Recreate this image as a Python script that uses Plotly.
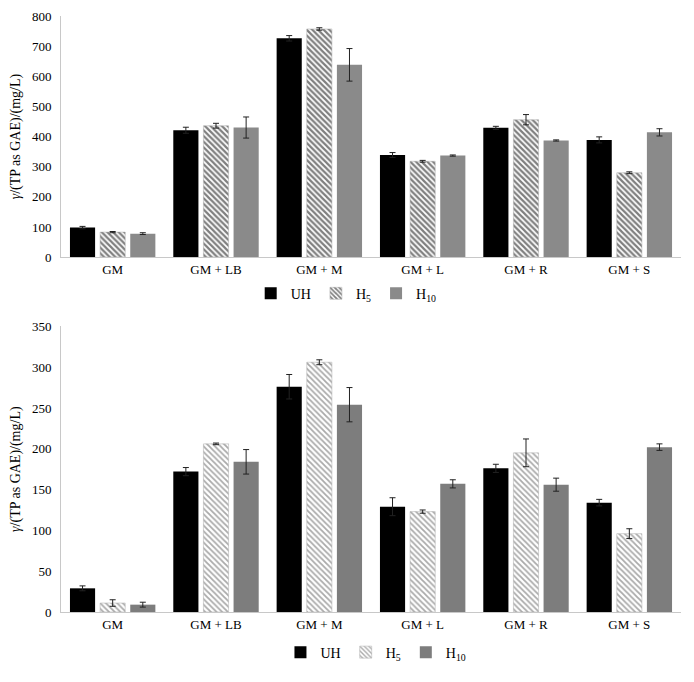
import plotly.graph_objects as go

categories = ["GM", "GM + LB", "GM + M", "GM + L", "GM + R", "GM + S"]

# Top chart
top_uh = [98, 421, 726, 339, 429, 389]
top_uh_err = [4, 10, 9, 8, 5, 10]
top_h5 = [83, 436, 757, 318, 456, 280]
top_h5_err = [2, 8, 4, 3, 17, 3]
top_h10 = [78, 430, 638, 337, 387, 414]
top_h10_err = [3, 35, 54, 2, 2, 12]

# Bottom chart
bot_uh = [29, 172, 276, 129, 176, 134]
bot_uh_err = [3, 5, 15, 11, 5, 4]
bot_h5 = [11, 206, 306, 123, 195, 96]
bot_h5_err = [4, 1, 3, 2, 17, 6]
bot_h10 = [9, 184, 254, 157, 156, 202]
bot_h10_err = [3, 15, 21, 5, 8, 4]

series_names = ["UH", "H<sub>5</sub>", "H<sub>10</sub>"]
top_yticks = [0, 100, 200, 300, 400, 500, 600, 700, 800]
bot_yticks = [0, 50, 100, 150, 200, 250, 300, 350]

FONT = "Liberation Serif, Times New Roman, Times, serif"
AXCOL = "#c8c8c8"

fig = go.Figure()

def add_set(vals, xa, ya, leg, h5_fg, h5_sol, h10_col):
    (uh, uhe), (h5, h5e), (h10, h10e) = vals
    fig.add_trace(go.Bar(
        x=categories, y=uh, name=series_names[0], xaxis=xa, yaxis=ya, legend=leg,
        marker=dict(color="#000000", line=dict(width=0)),
        error_y=dict(type="data", array=uhe, color="#222", thickness=1, width=3)))
    fig.add_trace(go.Bar(
        x=categories, y=h5, name=series_names[1], xaxis=xa, yaxis=ya, legend=leg,
        marker=dict(color="#ffffff", line=dict(width=0.5, color="#aaaaaa"),
                    pattern=dict(shape="\\", fgcolor=h5_fg, bgcolor="#ffffff",
                                 size=4, solidity=h5_sol)),
        error_y=dict(type="data", array=h5e, color="#222", thickness=1, width=3)))
    fig.add_trace(go.Bar(
        x=categories, y=h10, name=series_names[2], xaxis=xa, yaxis=ya, legend=leg,
        marker=dict(color=h10_col, line=dict(width=0)),
        error_y=dict(type="data", array=h10e, color="#222", thickness=1, width=3)))

add_set([(top_uh, top_uh_err), (top_h5, top_h5_err), (top_h10, top_h10_err)],
        "x", "y", "legend", "#000000", 0.55, "#8a8a8a")
add_set([(bot_uh, bot_uh_err), (bot_h5, bot_h5_err), (bot_h10, bot_h10_err)],
        "x2", "y2", "legend2", "#555555", 0.45, "#7d7d7d")

ytitle = "<i>γ</i>/(TP as GAE)/(mg/L)"

axis_common = dict(showgrid=False, zeroline=False, showline=True, linecolor=AXCOL,
                   linewidth=1, ticks="", automargin=False, ticklabeloverflow="allow",
                   tickfont=dict(family=FONT, size=13, color="#000"))

fig.update_layout(
    width=678, height=666,
    margin=dict(l=53, r=5, t=8, b=55),
    paper_bgcolor="white", plot_bgcolor="white",
    font=dict(family=FONT, color="#000"),
    barmode="group", bargap=0.125, bargroupgap=0.166,
    xaxis=dict(domain=[0, 1], anchor="y", **axis_common),
    yaxis=dict(domain=[0.5954, 1.0], anchor="x", range=[0, 800], tickvals=top_yticks,
               ticklabelstandoff=6,
               title=dict(text=ytitle, font=dict(family=FONT, size=14), standoff=8),
               **axis_common),
    xaxis2=dict(domain=[0, 1], anchor="y2", **axis_common),
    yaxis2=dict(domain=[0, 0.4793], anchor="x2", range=[0, 350], tickvals=bot_yticks,
                ticklabelstandoff=6,
                title=dict(text=ytitle, font=dict(family=FONT, size=14), standoff=8),
                **axis_common),
    legend=dict(orientation="h", x=0.46, y=0.534, xanchor="center", yanchor="middle",
                font=dict(family=FONT, size=14), itemwidth=30, bgcolor="rgba(0,0,0,0)"),
    legend2=dict(orientation="h", x=0.508, y=-0.068, xanchor="center", yanchor="middle",
                 font=dict(family=FONT, size=14), itemwidth=30, bgcolor="rgba(0,0,0,0)"),
)

fig.write_html("out.html")
